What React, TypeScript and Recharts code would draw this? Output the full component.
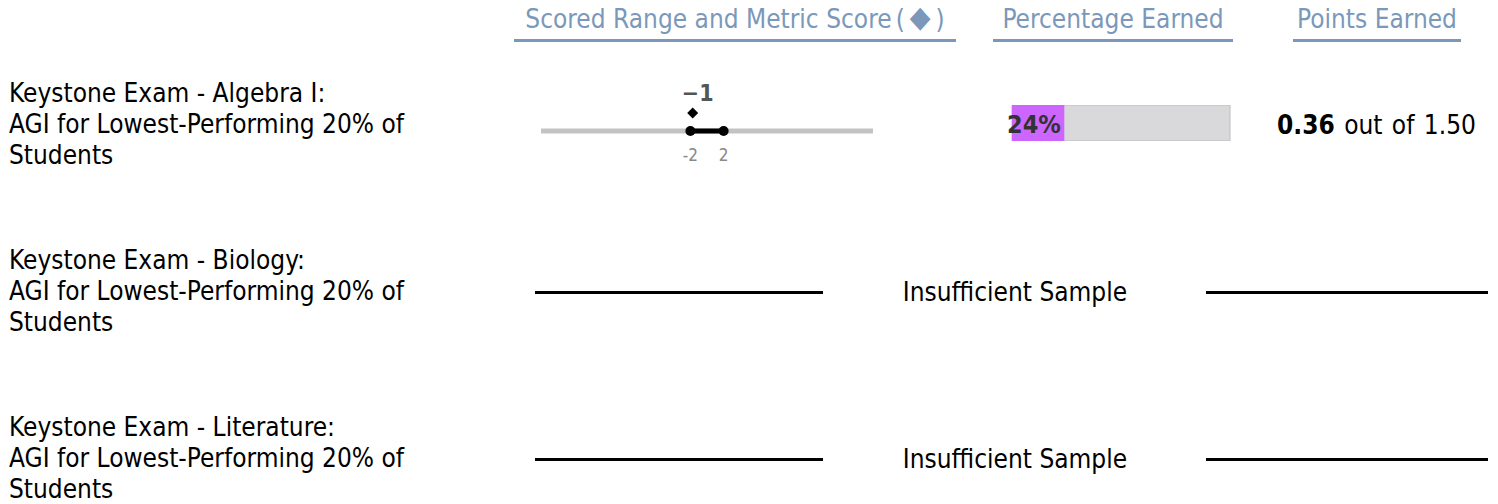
import React from "react";
import {
  ScatterChart,
  Scatter,
  XAxis,
  YAxis,
  ReferenceLine,
  BarChart,
  Bar,
  LabelList,
} from "recharts";

// ---------- data ----------
const headers = ["Scored Range and Metric Score", "Percentage Earned", "Points Earned"];
const rowTitles = [
  "Keystone Exam - Algebra I:",
  "Keystone Exam - Biology:",
  "Keystone Exam - Literature:",
];
const rowSubtitleA = "AGI for Lowest-Performing 20% of";
const rowSubtitleB = "Students";
const scaleMin = -20;
const scaleMax = 20;
const scoredRangeLow = [-2, null, null];
const scoredRangeHigh = [2, null, null];
const metricScores = [-1, null, null];
const percentEarned = [24, null, null];
const pointsEarned = [0.36, null, null];
const pointsPossible = [1.5, null, null];
const insufficientText = "Insufficient Sample";

const FONT = '"DejaVu Sans Condensed", "DejaVu Sans", Verdana, sans-serif';
const FS = 26;
const HEAD = "#7b98ba";
const ROW_STEP = 167;

const EndDot = (props: any) => {
  const { cx, cy, payload } = props;
  return (
    <g>
      <circle cx={cx} cy={cy} r={5} fill="#000" />
      <text
        x={cx}
        y={cy + 24}
        textAnchor="middle"
        dominantBaseline="central"
        fontFamily={FONT}
        fontSize={17}
        fill="#888"
      >
        {payload.label}
      </text>
    </g>
  );
};

const DiamondMark = (props: any) => {
  const { cx, cy, payload } = props;
  const dx = cx - 6;
  const dy = cy - 18;
  const s = 5.5;
  return (
    <g>
      <polygon
        points={`${dx},${dy - s} ${dx + s},${dy} ${dx},${dy + s} ${dx - s},${dy}`}
        fill="#000"
      />
      <text
        x={cx - 1}
        y={cy - 38}
        textAnchor="middle"
        dominantBaseline="central"
        fontFamily={FONT}
        fontSize={23}
        fontWeight="bold"
        fill="#555"
      >
        {payload.label}
      </text>
    </g>
  );
};

const PctLabel = (props: any) => {
  const { x, y, height, value } = props;
  return (
    <text
      x={x - 5}
      y={y + height / 2 + 1}
      dominantBaseline="central"
      fontFamily={FONT}
      fontSize={25}
      fontWeight="bold"
      fill="#333"
    >
      {`${value}%`}
    </text>
  );
};

function ScoredRange({ low, high, score }: { low: number; high: number; score: number }) {
  const ends = [
    { x: low, y: 0.5, label: String(low) },
    { x: high, y: 0.5, label: String(high) },
  ];
  const scorePts = [{ x: score, y: 0.5, label: String(score).replace("-", "\u2212") }];
  return (
    <ScatterChart width={420} height={120} margin={{ top: 0, right: 47, bottom: 0, left: 41 }}>
      <XAxis type="number" dataKey="x" domain={[scaleMin, scaleMax]} hide />
      <YAxis type="number" dataKey="y" domain={[0, 1]} hide />
      <ReferenceLine
        segment={[
          { x: scaleMin, y: 0.5 },
          { x: scaleMax, y: 0.5 },
        ]}
        stroke="#c3c3c3"
        strokeWidth={5}
      />
      <ReferenceLine
        segment={[
          { x: low, y: 0.5 },
          { x: high, y: 0.5 },
        ]}
        stroke="#000"
        strokeWidth={5}
      />
      <Scatter data={ends} shape={EndDot} isAnimationActive={false} />
      <Scatter data={scorePts} shape={DiamondMark} isAnimationActive={false} />
    </ScatterChart>
  );
}

function PctBar({ pct }: { pct: number }) {
  const data = [{ name: "pct", value: pct }];
  return (
    <BarChart
      width={226}
      height={36}
      data={data}
      layout="vertical"
      margin={{ top: 0, right: 2, bottom: 0, left: 6 }}
      barCategoryGap={0}
    >
      <XAxis type="number" domain={[0, 100]} hide />
      <YAxis type="category" dataKey="name" hide />
      <Bar
        dataKey="value"
        fill="#cc66ff"
        background={{ fill: "#d9d9db", stroke: "#bdbdbd", strokeWidth: 1 }}
        isAnimationActive={false}
      >
        <LabelList dataKey="value" content={PctLabel} />
      </Bar>
    </BarChart>
  );
}

const headerCols = [
  { left: 514, width: 442 },
  { left: 993, width: 240 },
  { left: 1293, width: 168 },
];

export default function App() {
  return (
    <div
      style={{
        position: "absolute",
        left: 0,
        top: 0,
        width: 1498,
        height: 504,
        background: "#fff",
        fontFamily: FONT,
        overflow: "hidden",
      }}
    >
      {headers.map((h, i) => (
        <div
          key={h}
          style={{
            position: "absolute",
            left: headerCols[i].left,
            width: headerCols[i].width,
            top: 0,
            height: 39,
            borderBottom: `3px solid ${HEAD}`,
            color: HEAD,
            fontSize: FS,
            lineHeight: "38px",
            textAlign: "center",
            whiteSpace: "nowrap",
          }}
        >
          {i === 0 ? (
            <span>
              {h}
              <span style={{ marginLeft: 4 }}>(</span>
              <span
                style={{
                  fontSize: 30,
                  lineHeight: "30px",
                  margin: "0 5px",
                  position: "relative",
                  top: -1,
                }}
              >
                {"\u25C6"}
              </span>
              )
            </span>
          ) : (
            h
          )}
        </div>
      ))}

      {rowTitles.map((t, i) => {
        const top = 78 + i * ROW_STEP;
        const mid = 125 + i * ROW_STEP;
        const hasData = metricScores[i] !== null;
        return (
          <React.Fragment key={t}>
            <div
              style={{
                position: "absolute",
                left: 9,
                top,
                fontSize: FS,
                lineHeight: "31px",
                color: "#000",
                whiteSpace: "nowrap",
              }}
            >
              <div>{t}</div>
              <div>{rowSubtitleA}</div>
              <div>{rowSubtitleB}</div>
            </div>
            {hasData ? (
              <>
                <div style={{ position: "absolute", left: 500, top: mid + 6 - 60 }}>
                  <ScoredRange
                    low={scoredRangeLow[i] as number}
                    high={scoredRangeHigh[i] as number}
                    score={metricScores[i] as number}
                  />
                </div>
                <div style={{ position: "absolute", left: 1006, top: mid - 20 }}>
                  <PctBar pct={percentEarned[i] as number} />
                </div>
                <div
                  style={{
                    position: "absolute",
                    left: 1277,
                    top: mid - 16,
                    fontSize: FS,
                    lineHeight: "32px",
                    whiteSpace: "nowrap",
                    color: "#000",
                    wordSpacing: 2,
                  }}
                >
                  <b>{(pointsEarned[i] as number).toFixed(2)}</b> out of{" "}
                  {(pointsPossible[i] as number).toFixed(2)}
                </div>
              </>
            ) : (
              <>
                <div
                  style={{
                    position: "absolute",
                    left: 535,
                    width: 288,
                    top: mid - 1,
                    height: 3,
                    background: "#000",
                  }}
                />
                <div
                  style={{
                    position: "absolute",
                    left: 870,
                    width: 290,
                    top: mid - 16,
                    fontSize: FS,
                    lineHeight: "32px",
                    textAlign: "center",
                    whiteSpace: "nowrap",
                    color: "#000",
                  }}
                >
                  {insufficientText}
                </div>
                <div
                  style={{
                    position: "absolute",
                    left: 1206,
                    width: 282,
                    top: mid - 1,
                    height: 3,
                    background: "#000",
                  }}
                />
              </>
            )}
          </React.Fragment>
        );
      })}
    </div>
  );
}
